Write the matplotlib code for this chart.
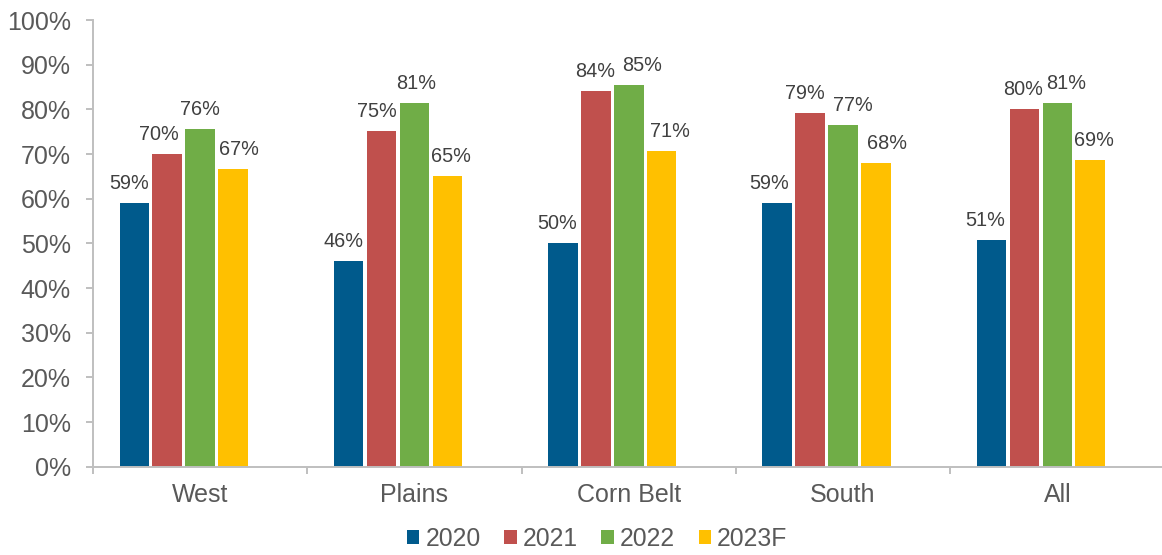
import matplotlib
matplotlib.use("Agg")
import matplotlib.pyplot as plt
from matplotlib.patches import Patch
import numpy as np

plt.rcParams['font.family'] = ['Liberation Sans', 'DejaVu Sans']

categories = ["West", "Plains", "Corn Belt", "South", "All"]
series_names = ["2020", "2021", "2022", "2023F"]
v2020 = [59.1, 46.0, 50.1, 59.0, 50.7]
v2021 = [70.0, 75.1, 84.1, 79.2, 80.1]
v2022 = [75.5, 81.4, 85.4, 76.6, 81.4]
v2023 = [66.6, 65.1, 70.7, 67.9, 68.7]
series_values = [v2020, v2021, v2022, v2023]
colors = ["#005A8C", "#C0504D", "#70AD47", "#FFC000"]

# label horizontal nudges (pixels), to mimic the reference's label placement
nudges = [
    [-5, -5, -6, -8, -6],
    [-8, -5, -1, -5, -1],
    [0, 2, 13, 10, 9],
    [6, 4, 8, 11, 4],
]

W, H, DPI = 1162, 555, 100
fig = plt.figure(figsize=(W / DPI, H / DPI), dpi=DPI)
ax = fig.add_axes([93 / W, (H - 466.7) / H, 1071.5 / W, (466.7 - 20) / H])

x = np.arange(len(categories))
pitch = 0.1535
bw = 0.138
px2pt = 72 / DPI
for i, (name, vals, c) in enumerate(zip(series_names, series_values, colors)):
    xs = x + (i - 2) * pitch
    bars = ax.bar(xs, vals, width=bw, color=c, label=name, zorder=2)
    for j, (xx, v) in enumerate(zip(xs, vals)):
        ax.annotate(f"{int(v + 0.5)}%", (xx, v),
                    xytext=(nudges[i][j] * px2pt, 14 * px2pt),
                    textcoords="offset points", ha="center", va="baseline",
                    fontsize=14.3, color="#404040")

ax.set_xlim(-0.5, len(categories) - 0.5)
ax.set_ylim(0, 100)
ax.set_yticks(np.arange(0, 101, 10))
ax.set_yticklabels([f"{t}%" for t in range(0, 101, 10)])
ax.set_xticks(x)
ax.set_xticklabels(categories)
ax.set_xticks(np.arange(-0.5, len(categories), 1.0), minor=True)

for s in ["top", "right"]:
    ax.spines[s].set_visible(False)
for s in ["left", "bottom"]:
    ax.spines[s].set_color("#BFBFBF")
    ax.spines[s].set_linewidth(1.4)

ax.tick_params(axis="y", direction="out", length=5, width=1.4, color="#BFBFBF",
               labelsize=18, labelcolor="#595959", pad=11)
ax.tick_params(axis="x", which="major", length=0, labelsize=18,
               labelcolor="#595959", pad=12)
ax.tick_params(axis="x", which="minor", direction="out", length=5, width=1.4,
               color="#BFBFBF")

handles = [Patch(facecolor=c, edgecolor="none") for c in colors]
fig.legend(handles, series_names, loc="center", bbox_to_anchor=(0.514, 0.029),
           ncol=4, frameon=False, fontsize=17.8, labelcolor="#595959",
           handlelength=0.5, handleheight=0.5, handletextpad=0.25,
           columnspacing=0.95, borderpad=0, borderaxespad=0)

fig.savefig("out.png", dpi=DPI)
